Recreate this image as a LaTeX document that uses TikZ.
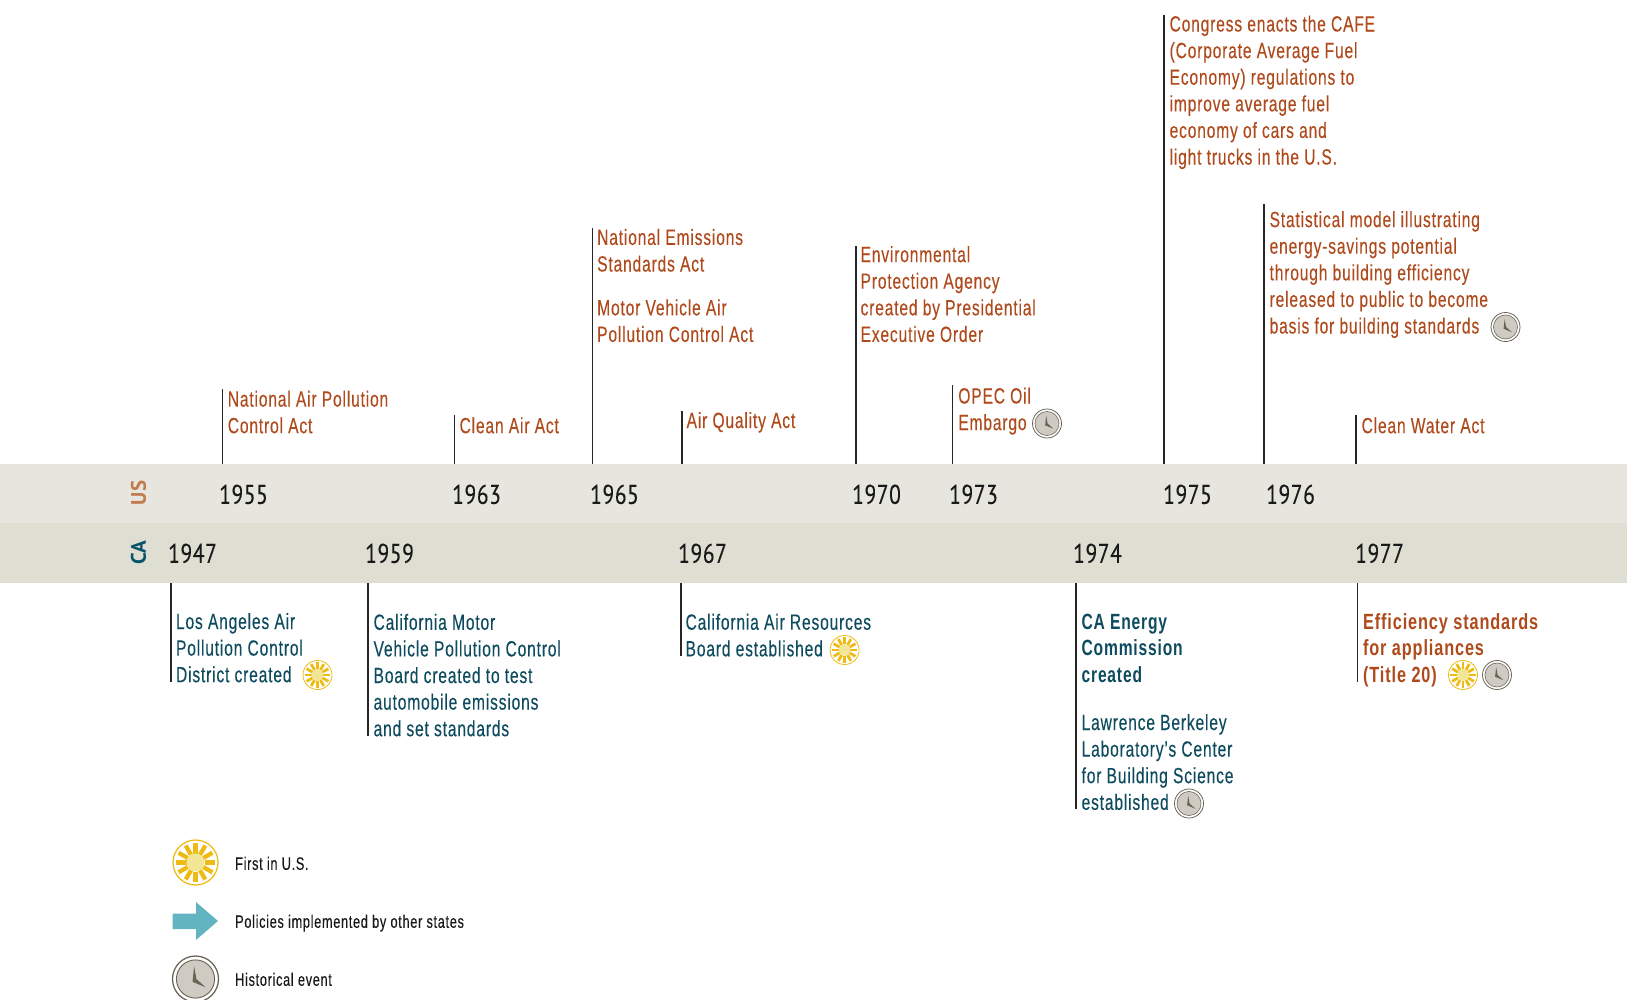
\documentclass[tikz,border=0pt]{standalone}
\usepackage{fontspec}
\setmainfont[FakeStretch=0.71,LetterSpace=3.7,UprightFeatures={FakeBold=0.25}]{Liberation Sans}
\newfontfamily\effbold[FakeStretch=0.74,LetterSpace=4]{Liberation Sans Bold}
\newfontfamily\yearfont[FakeStretch=0.8,LetterSpace=2,FakeBold=0.2]{PT Sans}
\newfontfamily\tagfont{PT Sans}
\definecolor{usorange}{HTML}{AF4A1C}
\definecolor{cateal}{HTML}{0E4B5E}
\definecolor{usband}{HTML}{E6E6DE}
\definecolor{caband}{HTML}{DEDED2}
\definecolor{ustag}{HTML}{C17B4E}
\definecolor{catag}{HTML}{0B5369}
\definecolor{sunyel}{HTML}{EDBB14}
\definecolor{sunpale}{HTML}{F3E596}
\definecolor{clockdark}{HTML}{6A6456}
\definecolor{clockfill}{HTML}{CFCBC3}
\definecolor{arrowteal}{HTML}{62B5C0}
\tikzset{
  x=1pt,y=-1pt,
  band/.style={rectangle,inner sep=0pt,minimum width=1627pt,anchor=north west,draw=none},
  ustext/.style={anchor=base west,inner sep=0pt,xshift=.4pt,yshift=-.5pt,align=left,text=usorange,font=\fontsize{22}{26.6}\selectfont},
  catext/.style={ustext,text=cateal},
  yearlab/.style={anchor=base west,inner sep=0pt,yshift=-.8pt,text=black!90,font=\yearfont\fontsize{27}{30}\selectfont},
  legendlab/.style={anchor=base west,inner sep=0pt,yshift=-.8pt,text=black!90,font=\fontsize{18}{22}\selectfont},
  tick/.style={draw=black!85,line width=1.15pt},
  pics/sun/.style={code={
    \draw[sunyel,line width=.055*#1 pt,fill=white] (0,0) circle[radius=#1];
    \foreach \a in {0,30,...,330}
      \draw[sunyel,line width=.19*#1 pt] (\a:.4*#1) -- (\a:.87*#1);
    \fill[sunpale] (0,0) circle[radius=.4*#1];
  }},
  pics/clock/.style={code={
    \draw[clockdark,line width=.055*#1 pt,fill=white] (0,0) circle[radius=#1];
    \draw[clockdark,line width=.04*#1 pt,fill=clockfill] (0,0) circle[radius=.83*#1];
    \fill[clockdark] (-.06*#1,-.56*#1) -- (.04*#1,0) -- (.44*#1,.36*#1) -- (-.13*#1,.12*#1) -- cycle;
  }},
}
\begin{document}
\begin{tikzpicture}
\useasboundingbox (0,0) rectangle (1627,999);
% bands
\node[band,fill=usband,minimum height=60pt] (usb) at (0,463.5) {};
\node[band,fill=caband,minimum height=60pt] (cab) at (0,523) {};
\node[rotate=90,inner sep=0pt,text=ustag,font=\tagfont\bfseries\fontsize{21}{24}\selectfont] (ustag) at (138.5,493) {US};
\node[rotate=90,inner sep=0pt,text=catag,font=\tagfont\bfseries\fontsize{21}{24}\selectfont] (catag) at (138.5,552.5) {CA};
% years
\node[yearlab] (y55) at (219,503) {1955};
\node[yearlab] (y63) at (452,503) {1963};
\node[yearlab] (y65) at (590,503) {1965};
\node[yearlab] (y70) at (852,503) {1970};
\node[yearlab] (y73) at (949,503) {1973};
\node[yearlab] (y75) at (1163,503) {1975};
\node[yearlab] (y76) at (1266,503) {1976};
\node[yearlab] (y47) at (168,562) {1947};
\node[yearlab] (y59) at (365,562) {1959};
\node[yearlab] (y67) at (678,562) {1967};
\node[yearlab] (y74) at (1073,562) {1974};
\node[yearlab] (y77) at (1355,562) {1977};
% US ticks
\coordinate (a1) at (222.5,389);
\coordinate (a2) at (454.5,415);
\coordinate (a3) at (592.5,228);
\coordinate (a4) at (682,411);
\coordinate (a5) at (856,246);
\coordinate (a6) at (952.5,385);
\coordinate (a7) at (1164,14.5);
\coordinate (a8) at (1264,204);
\coordinate (a9) at (1356,415);
\foreach \c in {a1,a2,a3,a4,a5,a6,a7,a8,a9}
  \draw[tick] (\c) -- (\c |- usb.north);
% CA ticks
\coordinate (b1) at (171,682);
\coordinate (b2) at (368,736);
\coordinate (b3) at (681,656);
\coordinate (b4) at (1076,809);
\coordinate (b5) at (1357.5,682);
\foreach \c in {b1,b2,b3,b4,b5}
  \draw[tick] (\c) -- (\c |- cab.south);
% US texts
\node[ustext] (t1) at (227.2,432.7) {National Air Pollution\\Control Act};
\node[ustext] (t2) at (459,432.7) {Clean Air Act};
\node[ustext] (t3) at (596.6,271) {National Emissions\\Standards Act};
\node[ustext] (t3b) at (596.6,341.4) {Motor Vehicle Air\\Pollution Control Act};
\node[ustext] (t4) at (686,427.5) {Air Quality Act};
\node[ustext] (t5) at (860,341.4) {Environmental\\Protection Agency\\created by Presidential\\Executive Order};
\node[ustext] (t6) at (957.7,429.6) {OPEC Oil\\Embargo};
\node[ustext] (t7) at (1169,164) {Congress enacts the CAFE\\(Corporate Average Fuel\\Economy) regulations to\\improve average fuel\\economy of cars and\\light trucks in the U.S.};
\node[ustext] (t8) at (1269,333) {Statistical model illustrating\\energy-savings potential\\through building efficiency\\released to public to become\\basis for building standards};
\node[ustext] (t9) at (1361,432.7) {Clean Water Act};
% CA texts
\node[catext] (c1) at (175.4,681.7) {Los Angeles Air\\Pollution Control\\District created};
\node[catext] (c2) at (373,735.7) {California Motor\\Vehicle Pollution Control\\Board created to test\\automobile emissions\\and set standards};
\node[catext] (c3) at (685,655.8) {California Air Resources\\Board established};
\node[catext,font=\bfseries\fontsize{22}{26.6}\selectfont] (c4) at (1081,681.7) {CA Energy\\Commission\\created};
\node[catext] (c5) at (1081,809.3) {Lawrence Berkeley\\Laboratory's Center\\for Building Science\\established};
\node[ustext,font=\effbold\fontsize{22}{26.6}\selectfont] (c6) at (1362.5,681.7) {Efficiency standards\\for appliances\\(Title 20)};
% inline icons
\pic at (317.5,675) {sun=14.5};
\pic at (844.6,650) {sun=14.5};
\pic at (1463,675) {sun=14.5};
\pic at (1497,675) {clock=14.5};
\pic at (1189,803.5) {clock=14.5};
\pic at (1505.5,327) {clock=14.5};
\pic at (1047,423.5) {clock=14.5};
% legend
\pic at (195.5,862.5) {sun=22.5};
\fill[arrowteal] (172.5,913.5) -- (196,913.5) -- (196,902) -- (218,921) -- (196,940) -- (196,929) -- (172.5,929) -- cycle;
\pic at (195.5,979) {clock=23};
\node[legendlab] (l1) at (235,869) {First in U.S.};
\node[legendlab] (l2) at (235,927) {Policies implemented by other states};
\node[legendlab] (l3) at (235,985) {Historical event};
\end{tikzpicture}
\end{document}
